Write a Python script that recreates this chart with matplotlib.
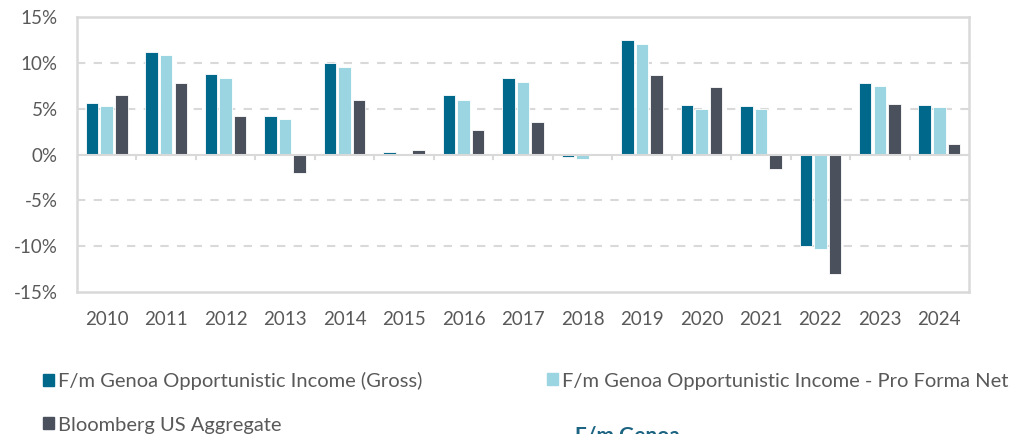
import numpy as np
import matplotlib.pyplot as plt
from matplotlib.patches import Patch

plt.rcParams['font.family'] = ['Lato', 'DejaVu Sans']

years = ['2010', '2011', '2012', '2013', '2014', '2015', '2016', '2017',
         '2018', '2019', '2020', '2021', '2022', '2023', '2024']
gross = [5.6, 11.2, 8.8, 4.2, 10.0, 0.3, 6.5, 8.3, -0.3, 12.5, 5.4, 5.3, -10.0, 7.8, 5.4]
net = [5.3, 10.9, 8.4, 3.9, 9.5, 0.1, 6.0, 7.9, -0.5, 12.1, 5.0, 5.0, -10.3, 7.5, 5.2]
bbg = [6.5, 7.8, 4.2, -2.0, 5.9, 0.5, 2.7, 3.5, 0.1, 8.7, 7.4, -1.6, -13.0, 5.5, 1.2]
names = ['F/m Genoa Opportunistic Income (Gross)',
         'F/m Genoa Opportunistic Income - Pro Forma Net',
         'Bloomberg US Aggregate']
colors = ['#00688A', '#9BD5E1', '#4A505C']
grey = '#D9D9D9'
txt = '#595959'

fig = plt.figure(figsize=(10.1, 4.34), dpi=100)
ax = fig.add_axes([77 / 1010, 1 - 292 / 434, 892 / 1010, 275 / 434])

x = np.arange(len(years))
w = 0.21
step = 0.245
for i, vals in enumerate([gross, net, bbg]):
    ax.bar(x + (i - 1) * step, vals, width=w, color=colors[i],
           edgecolor='white', linewidth=0.6, zorder=3)

ax.set_xlim(-0.5, len(years) - 0.5)
ax.set_ylim(-15, 15)
ax.set_yticks([-15, -10, -5, 0, 5, 10, 15])
ax.set_yticklabels([f'{v}%' for v in [-15, -10, -5, 0, 5, 10, 15]])
for v in [-10, -5, 5, 10]:
    ax.axhline(v, color=grey, lw=1.5, ls=(0, (4, 4)), zorder=1)
ax.axhline(0, color=grey, lw=1.5, zorder=4)

# category ticks hanging from the zero line
for b in np.arange(0.5, len(years) - 1, 1.0):
    ax.plot([b, b], [0, -0.45], color=grey, lw=1.5, zorder=4, clip_on=False)

ax.set_xticks(x)
ax.set_xticklabels(years)
ax.tick_params(axis='x', length=0, pad=14, labelsize=13.5, labelcolor=txt)
ax.tick_params(axis='y', length=0, pad=14, labelsize=13.5, labelcolor=txt)
for s in ax.spines.values():
    s.set_color(grey)
    s.set_linewidth(1.8)

handles = [Patch(color=c) for c in colors]
spots = [(43, 381), (547, 381), (43, 425)]
for h, n, (px, py) in zip(handles, names, spots):
    fig.legend([h], [n], loc='center left', bbox_to_anchor=(px / 1010, 1 - py / 434),
               frameon=False, fontsize=14.5, handlelength=0.55, handleheight=0.55,
               handletextpad=0.2, labelcolor=txt, borderpad=0, borderaxespad=0)

# heading of the next section, cut by the bottom edge as in the source
fig.text(575 / 1010, 1 - 426 / 434, 'F/m Genoa', fontsize=15, fontweight='bold',
         color='#1C6482', ha='left', va='top')

fig.savefig('out.png', dpi=100)
